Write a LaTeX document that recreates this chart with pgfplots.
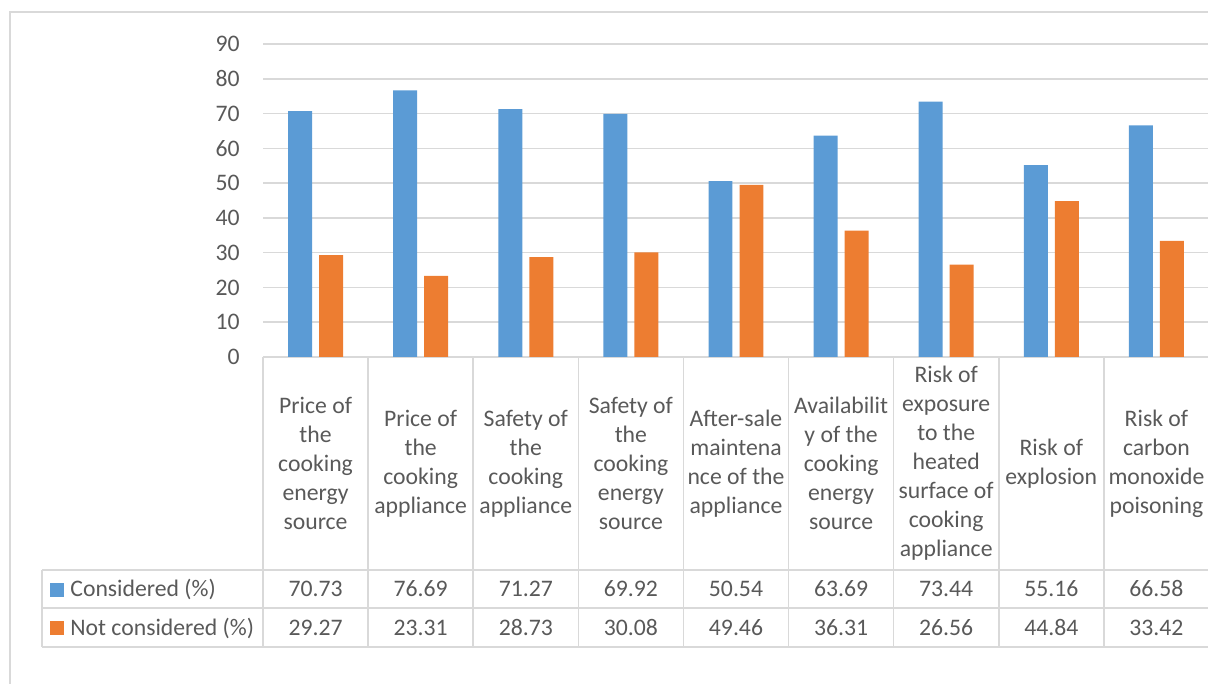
\documentclass[border=0pt]{standalone}
\usepackage{pgfplots}
\pgfplotsset{compat=1.18}
\usepackage{pgfplotstable}
\usepackage{fontspec}
\setmainfont{Carlito}
\definecolor{cblue}{HTML}{5B9BD5}
\definecolor{corange}{HTML}{ED7D31}
\definecolor{txtgray}{HTML}{595959}
\definecolor{linegray}{HTML}{D9D9D9}
\newcommand\cfont{\fontsize{11.85pt}{14.5pt}\selectfont}

\pgfplotstableread{
x c n
0 70.73 29.27
1 76.69 23.31
2 71.27 28.73
3 69.92 30.08
4 50.54 49.46
5 63.69 36.31
6 73.44 26.56
7 55.16 44.84
8 66.58 33.42
}\datatable

\begin{document}
\begin{tikzpicture}
\useasboundingbox (0,0) rectangle (604pt,342pt);
\draw[linegray, line width=0.6pt] (5pt,0) -- (5pt,336pt) -- (604pt,336pt);
\draw[linegray, line width=0.75pt] (21pt,57pt) -- (604.5pt,57pt) (21pt,38pt) -- (604.5pt,38pt) (21pt,18.5pt) -- (604.5pt,18.5pt) (21pt,57pt) -- (21pt,18.5pt);
\foreach \k in {0,...,9} \draw[linegray, line width=0.75pt] ({131.5pt+\k*52.556pt},163.5pt) -- ({131.5pt+\k*52.556pt},18.5pt);
\begin{axis}[
 at={(131.5pt,163.5pt)}, anchor=south west,
 scale only axis, width=473pt, height=156.5pt,
 xmin=-0.5, xmax=8.5, ymin=0, ymax=90,
 clip=false,
 axis line style={draw=none},
 major tick length=0pt,
 ytick={0,10,...,90},
 ymajorgrids, grid style={linegray, line width=0.75pt},
 xtick={0,...,8},
 xticklabels={{Price of\\the\\cooking\\energy\\source},
  {Price of\\the\\cooking\\appliance},
  {Safety of\\the\\cooking\\appliance},
  {Safety of\\the\\cooking\\energy\\source},
  {After-sale\\maintena\\nce of the\\appliance},
  {Availabilit\\y of the\\cooking\\energy\\source},
  {Risk of\\exposure\\to the\\heated\\surface of\\cooking\\appliance},
  {Risk of\\explosion},
  {Risk of\\carbon\\monoxide\\poisoning}},
 tick label style={font=\cfont, text=txtgray},
 /pgf/number format/assume math mode=true,
 yticklabel style={inner sep=0pt, xshift=-11.5pt},
 xticklabel style={anchor=center, align=center, yshift=-53.25pt, inner sep=0pt},
 legend cell align=left,
 legend style={at={(axis cs:-2.5265,-61.25)}, anchor=north west, draw=none, fill=none,
   inner sep=0pt, row sep=0pt, font=\cfont, text=txtgray,
   nodes={inner sep=0pt, minimum height=19.25pt},
   /tikz/every odd column/.append style={column sep=3pt}},
 legend image code/.code={\fill[#1] (0pt,-3.5pt) rectangle (7pt,3.5pt);},
]
\addplot[ybar, fill=cblue, draw=none, bar width=0.228, bar shift=-0.1475] table[x=x,y=c]{\datatable};
\addlegendentry{Considered (\%)}
\addplot[ybar, fill=corange, draw=none, bar width=0.228, bar shift=0.1475] table[x=x,y=n]{\datatable};
\addlegendentry{Not considered (\%)}
\addplot[draw=none, mark=none, forget plot, point meta=explicit,
  nodes near coords={\pgfmathprintnumber[fixed,fixed zerofill,precision=2]{\pgfplotspointmeta}},
  nodes near coords style={font=\cfont, text=txtgray, anchor=center, inner sep=0pt}]
  table[x=x, y expr=-66.71, meta=c]{\datatable};
\addplot[draw=none, mark=none, forget plot, point meta=explicit,
  nodes near coords={\pgfmathprintnumber[fixed,fixed zerofill,precision=2]{\pgfplotspointmeta}},
  nodes near coords style={font=\cfont, text=txtgray, anchor=center, inner sep=0pt}]
  table[x=x, y expr=-77.78, meta=n]{\datatable};
\end{axis}
\end{tikzpicture}
\end{document}
